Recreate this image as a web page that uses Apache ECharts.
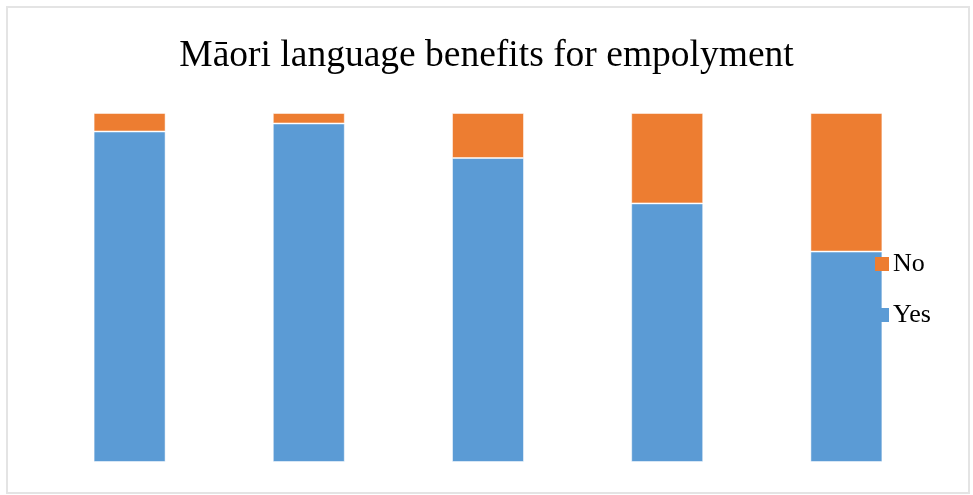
<!DOCTYPE html>
<html>
<head>
<meta charset="utf-8">
<script src="https://cdn.jsdelivr.net/npm/echarts@6/dist/echarts.min.js"></script>
<style>
  html, body { margin: 0; padding: 0; background: #fff; }
  #chart { width: 973px; height: 495px; }
</style>
</head>
<body>
<div id="chart"></div>
<script>
// data (percent of answers)
var categories = ['A', 'B', 'C', 'D', 'E'];
var yesValues = [94.7, 97.0, 87.1, 74.1, 60.3];
var noValues = [5.3, 3.0, 12.9, 25.9, 39.7];

var myChart = echarts.init(document.getElementById('chart'));

var option = {
  backgroundColor: '#fff',
  animation: false,
  title: {
    text: 'Māori language benefits for empolyment',
    left: 'center',
    top: 32,
    textStyle: {
      fontFamily: 'Liberation Serif',
      fontSize: 37.5,
      fontWeight: 'normal',
      color: '#000'
    }
  },
  legend: {
    orient: 'vertical',
    left: 870,
    top: 246,
    itemWidth: 14,
    itemHeight: 14,
    itemGap: 25,
    icon: 'rect',
    data: ['No', 'Yes'],
    itemStyle: { borderWidth: 0 },
    textStyle: {
      fontFamily: 'Liberation Serif',
      fontSize: 26,
      color: '#000',
      padding: [0, 0, 0, -1]
    }
  },
  grid: {
    left: 40,
    right: 37,
    top: 113,
    bottom: 33
  },
  xAxis: {
    type: 'category',
    data: categories,
    show: false
  },
  yAxis: {
    type: 'value',
    min: 0,
    max: 100,
    show: false
  },
  series: [
    {
      name: 'Yes',
      type: 'bar',
      stack: 'total',
      barWidth: 72,
      data: yesValues,
      itemStyle: { color: '#5B9BD5', borderColor: 'rgba(255,255,255,0.5)', borderWidth: 1 }
    },
    {
      name: 'No',
      type: 'bar',
      stack: 'total',
      barWidth: 72,
      data: noValues,
      itemStyle: { color: '#ED7D31', borderColor: 'rgba(255,255,255,0.5)', borderWidth: 1 }
    }
  ],
  graphic: [
    {
      type: 'rect',
      shape: { x: 7, y: 7, width: 962, height: 486 },
      style: { fill: 'none', stroke: '#e4e4e4', lineWidth: 2 },
      z: -1
    }
  ]
};

myChart.setOption(option);
</script>
</body>
</html>
